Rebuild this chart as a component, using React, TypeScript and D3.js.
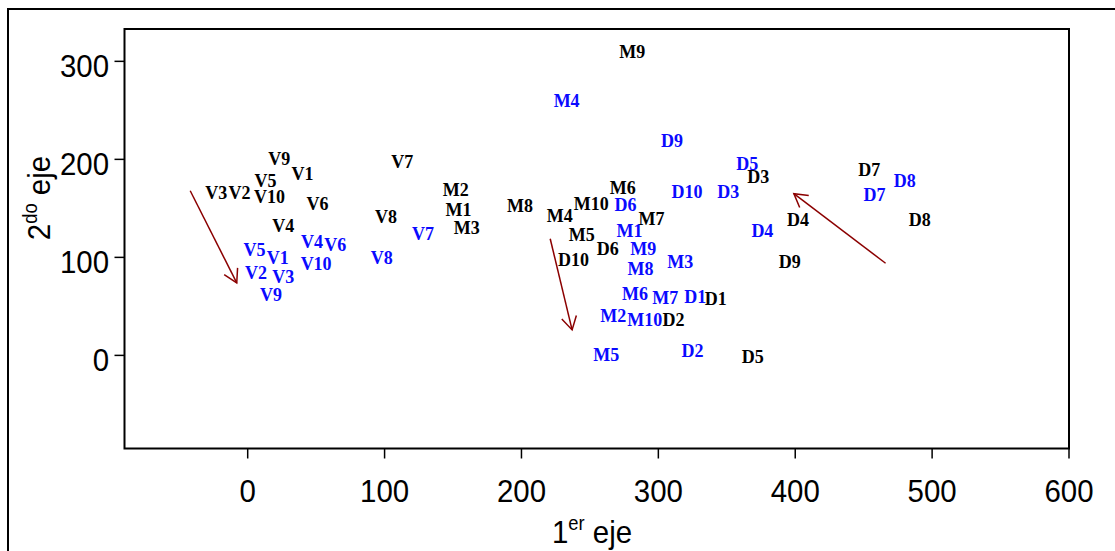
import React from "react";
import * as d3 from "d3";

// Projection of the samples on the first two axes: label, 1st axis, 2nd axis.
const firstSet: [string, number, number][] = [
  ["V9", 23, 200], ["V1", 40, 185], ["V5", 13, 178], ["V3", -23, 166], ["V2", -6, 166],
  ["V10", 16, 162], ["V6", 51, 154], ["V4", 26, 132], ["V7", 113, 197], ["V8", 101, 141],
  ["M2", 152, 169], ["M1", 154, 148], ["M3", 160, 130], ["M9", 281, 309], ["M6", 274, 171],
  ["M8", 199, 152], ["M4", 228, 142], ["M10", 251, 154], ["M7", 295, 139], ["M5", 244, 123],
  ["D6", 263, 108], ["D10", 238, 97], ["D3", 373, 182], ["D1", 342, 57], ["D2", 311, 36],
  ["D5", 369, -2], ["D7", 454, 189], ["D4", 402, 138], ["D8", 491, 138], ["D9", 396, 95],
];

const secondSet: [string, number, number][] = [
  ["V5", 5, 107], ["V1", 22, 99], ["V4", 47, 116], ["V6", 64, 113], ["V2", 6, 84],
  ["V3", 26, 80], ["V10", 50, 93], ["V9", 17, 62], ["V7", 128, 124], ["V8", 98, 99],
  ["M4", 233, 259], ["D9", 310, 219], ["D5", 365, 195], ["D10", 321, 167], ["D3", 351, 167],
  ["D6", 276, 153], ["M1", 279, 127], ["M9", 289, 108], ["M8", 287, 88], ["M3", 316, 95],
  ["M6", 283, 63], ["M7", 305, 58], ["D1", 327, 60], ["M2", 267, 40], ["M10", 290, 36],
  ["M5", 262, 0], ["D2", 325, 4], ["D4", 376, 127], ["D8", 480, 178], ["D7", 458, 164],
];

// Shift arrows: [x0, y0, x1, y1] in axis units, head at (x1, y1).
const shifts: [number, number, number, number][] = [
  [-42, 168, -8, 74],
  [221, 119, 237, 26],
  [466, 94, 399, 165],
];

const xTicks = [0, 100, 200, 300, 400, 500, 600];
const yTicks = [0, 100, 200, 300];

const W = 1115;
const H = 551;
const plot = { left: 124.5, right: 1069, top: 29, bottom: 448.5 };

const x = d3.scaleLinear().domain([-90, 600]).range([plot.left, plot.right]);
const y = d3.scaleLinear().domain([-95, 333]).range([plot.bottom, plot.top]);

const axisFont = "'Liberation Sans', Arial, sans-serif";
const labelFont = "'Liberation Serif', 'Times New Roman', serif";
const arrowColor = "#8b0000";
const blue = "#0a0aff";
// axis text is slightly condensed horizontally
const squeeze = 0.92;

function Arrow({ d }: { d: [number, number, number, number] }) {
  const [a, b, c, e] = d;
  const x0 = x(a), y0 = y(b), x1 = x(c), y1 = y(e);
  const ang = Math.atan2(y1 - y0, x1 - x0);
  const len = 15;
  const spread = Math.PI / 6;
  const h1 = [x1 - len * Math.cos(ang - spread), y1 - len * Math.sin(ang - spread)];
  const h2 = [x1 - len * Math.cos(ang + spread), y1 - len * Math.sin(ang + spread)];
  return (
    <g stroke={arrowColor} strokeWidth={1.5} fill="none">
      <line x1={x0} y1={y0} x2={x1} y2={y1} />
      <polyline points={`${h1[0]},${h1[1]} ${x1},${y1} ${h2[0]},${h2[1]}`} />
    </g>
  );
}

export default function App() {
  return (
    <svg
      width={W}
      height={H}
      style={{ position: "absolute", left: 0, top: 0, display: "block", background: "#fff" }}
    >
      {/* outer frame */}
      <rect x={8} y={9} width={W + 20} height={H + 20} fill="none" stroke="#000" strokeWidth={2} />

      {/* plot box */}
      <rect
        x={plot.left}
        y={plot.top}
        width={plot.right - plot.left}
        height={plot.bottom - plot.top}
        fill="none"
        stroke="#000"
        strokeWidth={2}
      />

      {/* x axis */}
      {xTicks.map((t) => (
        <g key={"x" + t}>
          <line x1={x(t)} x2={x(t)} y1={plot.bottom} y2={plot.bottom + 10} stroke="#000" strokeWidth={1.5} />
          <text
            transform={`translate(${x(t)},501.5) scale(${squeeze},1)`}
            textAnchor="middle"
            fontFamily={axisFont}
            fontSize={32}
          >
            {t}
          </text>
        </g>
      ))}

      {/* y axis */}
      {yTicks.map((t) => (
        <g key={"y" + t}>
          <line x1={plot.left - 10} x2={plot.left} y1={y(t)} y2={y(t)} stroke="#000" strokeWidth={1.5} />
          <text
            transform={`translate(109,${y(t) + 15.5}) scale(${squeeze},1)`}
            textAnchor="end"
            fontFamily={axisFont}
            fontSize={32}
          >
            {t}
          </text>
        </g>
      ))}

      {/* axis titles */}
      <text
        transform={`translate(592,543) scale(${squeeze},1)`}
        textAnchor="middle"
        fontFamily={axisFont}
        fontSize={32}
      >
        1<tspan fontSize={20} dy={-13}>er</tspan>
        <tspan dy={13}> eje</tspan>
      </text>
      <text
        transform={`translate(50,198) rotate(-90) scale(${squeeze},1)`}
        textAnchor="middle"
        fontFamily={axisFont}
        fontSize={32}
      >
        2<tspan fontSize={20} dy={-13}>do</tspan>
        <tspan dy={13}> eje</tspan>
      </text>

      {/* point labels */}
      <g fontFamily={labelFont} fontWeight="bold" fontSize={18} textAnchor="middle">
        {firstSet.map(([lab, a, b], i) => (
          <text key={"a" + i} x={x(a)} y={y(b)} dy="0.33em" fill="#000">
            {lab}
          </text>
        ))}
        {secondSet.map(([lab, a, b], i) => (
          <text key={"b" + i} x={x(a)} y={y(b)} dy="0.33em" fill={blue}>
            {lab}
          </text>
        ))}
      </g>

      {shifts.map((d, i) => (
        <Arrow key={"s" + i} d={d} />
      ))}
    </svg>
  );
}
